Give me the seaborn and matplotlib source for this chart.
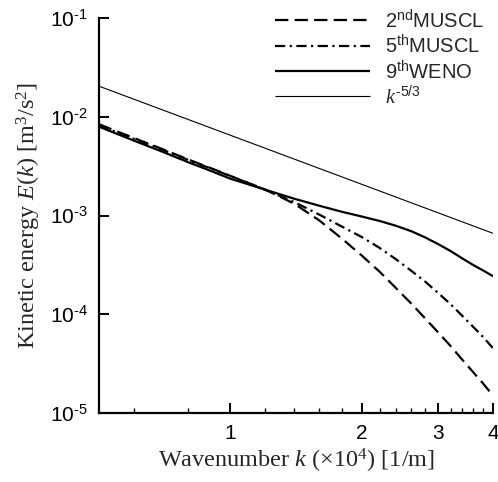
import numpy as np
import pandas as pd
import matplotlib
matplotlib.use("Agg")
import matplotlib.pyplot as plt
import matplotlib.ticker as mticker
import seaborn as sns

# ---- data ----
k = [0.5, 0.6, 0.7, 0.8, 0.9, 1.0, 1.2, 1.4, 1.6, 1.8, 2.0,
     2.2, 2.4, 2.6, 2.8, 3.0, 3.2, 3.4, 3.6, 3.8, 4.0]
E_muscl2 = [8.40e-3, 6.11e-3, 4.69e-3, 3.70e-3, 3.03e-3, 2.52e-3, 1.835e-3,
            1.32e-3, 8.90e-4, 5.86e-4, 3.94e-4, 2.69e-4, 1.83e-4, 1.28e-4,
            9.01e-5, 6.50e-5, 4.75e-5, 3.47e-5, 2.60e-5, 1.98e-5, 1.50e-5]
E_muscl5 = [8.21e-3, 5.99e-3, 4.62e-3, 3.66e-3, 3.00e-3, 2.51e-3, 1.83e-3,
            1.37e-3, 1.02e-3, 7.74e-4, 6.06e-4, 4.69e-4, 3.59e-4, 2.75e-4,
            2.13e-4, 1.63e-4, 1.26e-4, 9.66e-5, 7.48e-5, 5.86e-5, 4.53e-5]
E_weno9 = [7.93e-3, 5.75e-3, 4.41e-3, 3.47e-3, 2.84e-3, 2.36e-3, 1.83e-3,
           1.48e-3, 1.255e-3, 1.092e-3, 9.77e-4, 8.80e-4, 7.85e-4, 6.93e-4,
           5.98e-4, 5.11e-4, 4.36e-4, 3.68e-4, 3.16e-4, 2.77e-4, 2.43e-4]
k_ref = [0.5, 4.0]
E_ref = [2.04e-2, 6.6e-4]

labels = [r"2$^{\mathregular{nd}}$MUSCL", r"5$^{\mathregular{th}}$MUSCL",
          r"9$^{\mathregular{th}}$WENO", r"$\mathit{k}^{\text{-5/3}}$"]
xticks = [1, 2, 3, 4]
xtick_labels = ["1", "2", "3", "4"]
xminor = [0.6, 0.8, 1.2, 1.4, 1.6, 1.8, 2.2, 2.4, 2.6, 2.8, 3.2, 3.4, 3.6, 3.8]
yticks = [1e-5, 1e-4, 1e-3, 1e-2, 1e-1]
ytick_labels = [r"10$^{\text{-5}}$", r"10$^{\text{-4}}$", r"10$^{\text{-3}}$",
                r"10$^{\text{-2}}$", r"10$^{\text{-1}}$"]

sns.set_style("ticks")
plt.rcParams["font.family"] = ["Liberation Sans", "DejaVu Sans"]
plt.rcParams["mathtext.fontset"] = "custom"
plt.rcParams["mathtext.rm"] = "Liberation Sans"
plt.rcParams["mathtext.it"] = "Liberation Serif:italic"
plt.rcParams["mathtext.sf"] = "Liberation Serif"
plt.rcParams["mathtext.bf"] = "Liberation Sans:bold"

fig = plt.figure(figsize=(4.98, 4.82), dpi=100)
ax = fig.add_axes([99 / 498, 1 - 413 / 482, (493 - 99) / 498, (413 - 18) / 482])

df = pd.DataFrame({"k": k, "m2": E_muscl2, "m5": E_muscl5, "w9": E_weno9})
dref = pd.DataFrame({"k": k_ref, "E": E_ref})

sns.lineplot(data=df, x="k", y="m2", ax=ax, color="black", lw=1.6, legend=False)
sns.lineplot(data=df, x="k", y="m5", ax=ax, color="black", lw=1.6, legend=False)
sns.lineplot(data=df, x="k", y="w9", ax=ax, color="black", lw=1.6, legend=False)
sns.lineplot(data=dref, x="k", y="E", ax=ax, color="black", lw=0.8, legend=False)
lines = ax.get_lines()
lines[0].set_dashes((6.0, 2.8))
lines[1].set_dashes((4.6, 2.0, 1.0, 2.0))
for ln in lines:
    ln.set_solid_capstyle("butt")
    ln.set_dash_capstyle("butt")
    ln.set_solid_joinstyle("round")

ax.set_xscale("log")
ax.set_yscale("log")
ax.set_xlim(0.5, 4.0)
ax.set_ylim(1e-5, 1e-1)

ax.xaxis.set_major_locator(mticker.FixedLocator(xticks))
ax.xaxis.set_major_formatter(mticker.FixedFormatter(xtick_labels))
ax.xaxis.set_minor_locator(mticker.FixedLocator(xminor))
ax.xaxis.set_minor_formatter(mticker.NullFormatter())
ax.yaxis.set_major_locator(mticker.FixedLocator(yticks))
ax.yaxis.set_major_formatter(mticker.FixedFormatter(ytick_labels))
ax.yaxis.set_minor_locator(mticker.NullLocator())

ax.tick_params(axis="both", which="major", direction="in", length=7, width=1.4,
               labelsize=15, color="black", labelcolor="black", pad=8,
               left=True, bottom=True, top=False, right=False)
ax.tick_params(axis="x", which="minor", direction="in", length=3.5, width=1.0,
               color="black", bottom=True, top=False)

for s in ["top", "right"]:
    ax.spines[s].set_visible(False)
for s in ["left", "bottom"]:
    ax.spines[s].set_color("black")
    ax.spines[s].set_linewidth(1.6)

ax.set_xlabel(r"Wavenumber $\mathit{k}$ (×10$^{\mathsf{4}}$) [1/m]",
              family="Liberation Serif", fontsize=17.5, labelpad=3)
ax.set_ylabel(r"Kinetic energy $\mathit{E}$($\mathit{k}$) [m$^{\mathsf{3}}$/s$^{\mathsf{2}}$]",
              family="Liberation Serif", fontsize=17.5, labelpad=5)

leg = ax.legend(lines, labels, loc="upper left", bbox_to_anchor=(275 / 498, 1 - 9 / 482),
                bbox_transform=fig.transFigure, frameon=False, fontsize=14.5,
                handlelength=4.72, handletextpad=0.72, labelspacing=0.14, borderpad=0,
                borderaxespad=0)

fig.savefig("out.png", dpi=100, facecolor="white")
